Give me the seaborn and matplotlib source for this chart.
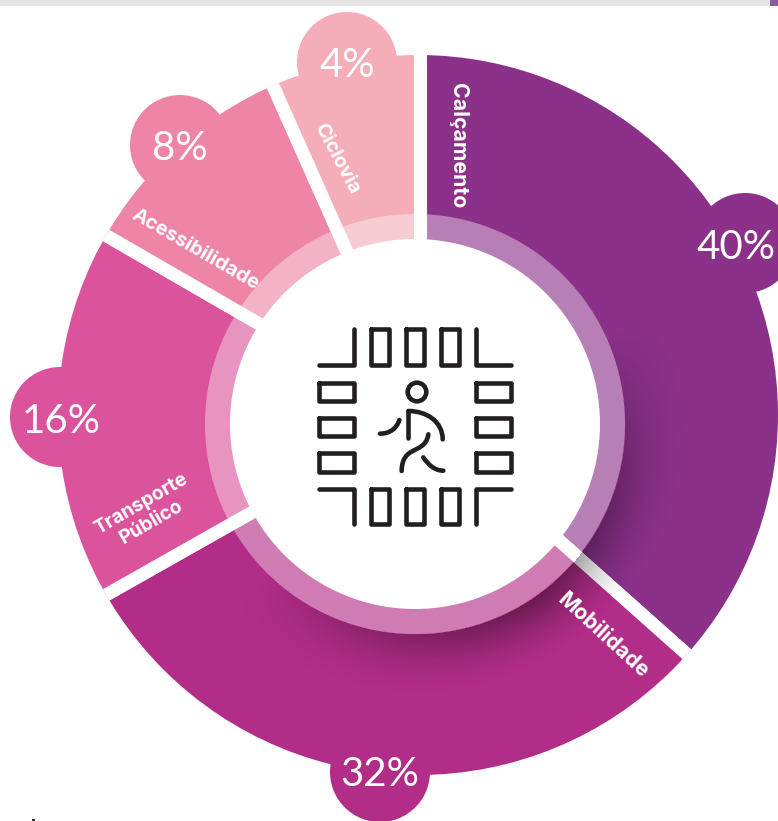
import numpy as np
import pandas as pd
import matplotlib
matplotlib.use("Agg")
import matplotlib.pyplot as plt
import seaborn as sns
from matplotlib.patches import Circle, PathPatch, Rectangle
from matplotlib.path import Path

# values
categories = ["Calçamento", "Mobilidade", "Transporte\nPúblico", "Acessibilidade", "Ciclovia"]
percent = [40, 32, 16, 8, 4]
# the designer did not draw slices to scale, so the sweep is read separately
drawn_sweep = [131.7, 108.8, 59.5, 36.0, 24.0]
colors = ["#8b318a", "#b22d88", "#db539c", "#ee84a6", "#f4adb9"]

W, H = 778, 821
ORIGIN = (420.5, 417)
OUTER_C, OUTER_R = (418, 415), 360
HOLE_C, HOLE_R, RING_R = (415, 424), 185, 210
BUBBLE_R = 50

bubble_xy = [(745, 243), (380, 772), (60, 417), (180, 145), (347, 62)]
pct_xy = [(736, 247), (380, 775), (61, 421), (180, 148), (347, 65)]
label_xy = [(458, 146), (603, 636), (146, 513), (195, 250), (337, 159)]
label_rot = [-90, -42.5, 30, -30, -62]
label_size = [15.3, 15.3, 13.8, 14.4, 14.2]


def flip(p):
    return p[0], H - p[1]


sns.set_theme(style="white")
plt.rcParams["font.family"] = ["Inter", "Lato", "DejaVu Sans"]

fig = plt.figure(figsize=(W / 100, H / 100), dpi=100)
ax = fig.add_axes([0, 0, 1, 1])

wedges, _ = ax.pie(drawn_sweep, colors=colors, startangle=90, counterclock=False,
                   center=flip(ORIGIN), radius=560,
                   wedgeprops={"edgecolor": "white", "linewidth": 9.4})
ax.set_xlim(0, W)
ax.set_ylim(0, H)
ax.set_aspect("equal")

# pie turns clipping off on its wedges
outline = Circle(flip(OUTER_C), OUTER_R, transform=ax.transData)
for w in wedges:
    w.set_clip_on(True)
    w.set_clip_path(outline)

# soft shadow around the ring, only towards the lower right
yy, xx = np.mgrid[0:H, 0:W]
dx, dy = xx - HOLE_C[0], yy - HOLE_C[1]
dist = np.hypot(dx, dy)
ang = np.degrees(np.arctan2(dx, -dy)) % 360
fall = np.clip(1 - (dist - RING_R) / 62, 0, 1) ** 1.6
fall[dist < RING_R] = 0
side = np.clip(1 - np.abs(ang - 145) / 80, 0, 1) ** 0.8
shade = np.zeros((H, W, 4))
shade[..., 3] = 0.42 * fall * side
shadow = ax.imshow(shade, extent=(0, W, 0, H), origin="upper", zorder=2, interpolation="bilinear")
shadow.set_clip_path(Circle(flip(OUTER_C), OUTER_R, transform=ax.transData))
ax.set_xlim(0, W)
ax.set_ylim(0, H)

ax.add_patch(Circle(flip(HOLE_C), RING_R, fc="white", alpha=0.38, ec="none", zorder=3))
ax.add_patch(Circle(flip(HOLE_C), HOLE_R, fc="white", ec="none", zorder=4))

bubbles = pd.DataFrame({
    "x": [p[0] for p in bubble_xy],
    "y": [H - p[1] for p in bubble_xy],
    "name": categories,
})
sns.scatterplot(data=bubbles, x="x", y="y", hue="name", palette=colors, ax=ax, legend=False,
                s=(2 * BUBBLE_R * 0.72) ** 2, linewidth=0, zorder=5)

for val, p in zip(percent, pct_xy):
    ax.text(*flip(p), f"{val}%", color="white", fontsize=29, fontfamily="Lato",
            ha="center", va="center", zorder=6)

for name, p, rot, fs in zip(categories, label_xy, label_rot, label_size):
    ax.text(*flip(p), name, color="white", fontsize=fs, fontweight="bold", rotation=rot,
            rotation_mode="anchor", ha="center", va="center", linespacing=1.2, zorder=6)

# top strip of the page and the stray mark at the bottom
ax.add_patch(Rectangle((0, H - 6), W, 6, fc="#e4e5e4", ec="none", zorder=7))
ax.add_patch(Rectangle((770, H - 6), 8, 6, fc="#8a5aa5", ec="none", zorder=8))
ax.add_patch(Rectangle((32, 0), 3, 1.5, fc="#333333", ec="none", zorder=8))


# crosswalk icon, coordinates in 3x crop pixels
def ic(x, y):
    return 280 + x / 3, H - (300 + y / 3)


ICON = dict(color="#231f20", lw=3.3, solid_capstyle="round", solid_joinstyle="round", zorder=7)


def poly(pts):
    ax.plot(*zip(*[ic(*q) for q in pts]), **ICON)


def box(x0, x1, y0, y1):
    poly([(x0, y0), (x1, y0), (x1, y1), (x0, y1), (x0, y0)])


def curve(*pts):
    codes = [Path.MOVETO] + [Path.CURVE4] * (len(pts) - 1)
    ax.add_patch(PathPatch(Path([ic(*q) for q in pts], codes), fc="none", ec="#231f20", lw=3.3,
                           capstyle="round", joinstyle="round", zorder=7))


poly([(117, 195), (222, 195), (222, 88)])
poly([(588, 88), (588, 195), (693, 195)])
poly([(117, 568), (222, 568), (222, 673)])
poly([(693, 568), (588, 568), (588, 673)])
for x0, x1 in [(272, 327), (377, 431), (482, 537)]:
    box(x0, x1, 88, 195)
    box(x0, x1, 568, 673)
for y0, y1 in [(248, 303), (353, 408), (460, 515)]:
    box(117, 222, y0, y1)
    box(588, 693, y0, y1)

ax.add_patch(Circle(ic(411, 276), 9.3, fc="none", ec="#231f20", lw=3.3, zorder=7))
poly([(385, 415), (385, 333)])
curve((385, 333), (440, 333), (488, 365), (488, 418))
curve((358, 360), (350, 385), (330, 401), (300, 401))
curve((445, 403), (440, 440), (410, 445), (395, 455), (375, 465), (365, 485), (365, 513))
curve((430, 472), (445, 495), (465, 512), (490, 512))

ax.axis("off")
fig.savefig("out.png", dpi=100)
